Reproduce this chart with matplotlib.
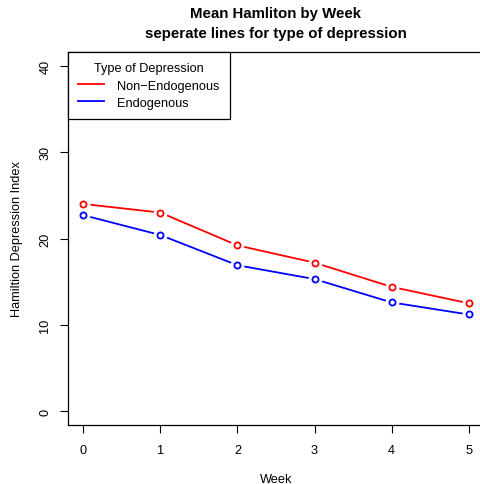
import numpy as np
import matplotlib.pyplot as plt

plt.rcParams['font.family'] = ['Liberation Sans', 'DejaVu Sans']

weeks = [0, 1, 2, 3, 4, 5]
non_endog = [24.0, 23.0, 19.2, 17.2, 14.4, 12.5]
endog = [22.7, 20.4, 16.9, 15.3, 12.6, 11.2]
series_names = ['Non\u2212Endogenous', 'Endogenous']
colors = ['red', 'blue']

fig = plt.figure(figsize=(4.8, 4.85), dpi=100)
ax = fig.add_axes([68/480, 59/485, 416/480, 373/485])

for vals, col, name in zip([non_endog, endog], colors, series_names):
    ax.plot(weeks, vals, color=col, lw=1.3, label=name, zorder=2)
    # white halo so the line stops short of the point, like R type="b"
    ax.plot(weeks, vals, 'o', ms=10, mfc='white', mec='none', zorder=3)
    ax.plot(weeks, vals, 'o', ms=4.4, mfc='white', mec=col, mew=1.3, zorder=4)

ax.set_xlim(-0.2, 5.2)
ax.set_ylim(-1.6, 41.6)
ax.set_xticks(weeks)
ax.set_yticks([0, 10, 20, 30, 40])
ax.set_yticklabels(['0', '10', '20', '30', '40'], rotation=90, va='center')
ax.tick_params(length=6, width=0.8, labelsize=9.2, pad=6)
ax.tick_params(axis='x', pad=8)
for s in ax.spines.values():
    s.set_linewidth(0.9)

ax.set_xlabel('Week', fontsize=9.2, va='center')
ax.xaxis.set_label_coords(0.5, (426 - 480) / 373)
ax.set_ylabel('Hamiltion Depression Index', fontsize=9.2, va='center')
ax.yaxis.set_label_coords((17 - 68) / 416, 0.5)
ax.set_title('Mean Hamliton by Week\nseperate lines for type of depression',
             fontsize=10.8, fontweight='bold', pad=11, linespacing=1.5)

leg = ax.legend(loc='upper left', borderaxespad=0, title='Type of Depression',
                fontsize=9.2, title_fontsize=9.2, fancybox=False, framealpha=1,
                edgecolor='black', handlelength=2.0, handletextpad=1.05,
                labelspacing=0.42, borderpad=0.8)
leg.get_frame().set_linewidth(0.9)

fig.savefig('out.png', dpi=100)
